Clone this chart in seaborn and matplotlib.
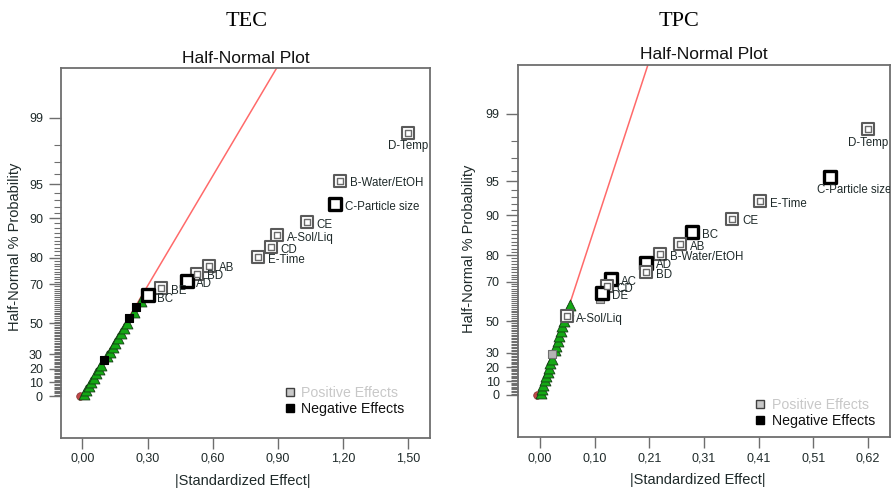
import math
from statistics import NormalDist

import numpy as np
import matplotlib
matplotlib.use("Agg")
import matplotlib.pyplot as plt
from matplotlib.lines import Line2D
from matplotlib.ticker import FixedLocator, FixedFormatter, NullFormatter
import seaborn as sns

# ==========================================
# Data (|effect|, half-normal %)
# ==========================================

# --- TEC panel ---
tec_terms = ['D-Temp', 'B-Water/EtOH', 'C-Particle size', 'CE', 'A-Sol/Liq', 'CD',
             'E-Time', 'AB', 'BD', 'AD', 'BE', 'BC']
tec_effect = [1.500, 1.185, 1.162, 1.032, 0.897, 0.866, 0.809, 0.583, 0.529, 0.480, 0.362, 0.301]
tec_pct = [98.5, 95.4, 92.4, 89.3, 86.3, 83.3, 80.3, 77.3, 74.3, 71.3, 68.3, 65.0]
tec_sign = ['+', '+', '-', '+', '+', '+', '+', '+', '+', '-', '+', '-']

tec_small_effect = [0.247, 0.216, 0.101]
tec_small_pct = [59.2, 53.1, 26.1]
tec_small_sign = ['-', '-', '-']

tec_err_effect = [0.006, 0.017, 0.029, 0.041, 0.052, 0.064, 0.076, 0.088, 0.113, 0.126,
                  0.139, 0.152, 0.166, 0.179, 0.193, 0.207, 0.237, 0.268]
tec_err_pct = [1.5, 4.5, 7.6, 10.6, 13.6, 16.7, 19.7, 22.7, 28.8, 31.8,
               34.8, 37.9, 40.9, 43.9, 47.0, 50.0, 56.1, 62.1]

tec_origin_effect = [-0.010]
tec_origin_pct = [0.0]

tec_line_effect = [0.0, 0.94]
tec_line_pct = [0.0, 99.86]

tec_xticks = [0.0, 0.3, 0.6, 0.9, 1.2, 1.5]
tec_xticklabels = ['0,00', '0,30', '0,60', '0,90', '1,20', '1,50']

# --- TPC panel ---
tpc_terms = ['D-Temp', 'C-Particle size', 'E-Time', 'CE', 'BC', 'AB', 'B-Water/EtOH',
             'AD', 'BD', 'AC', 'CD', 'DE', 'A-Sol/Liq']
tpc_effect = [0.6165, 0.5445, 0.413, 0.361, 0.285, 0.263, 0.225, 0.199, 0.199,
              0.133, 0.125, 0.116, 0.050]
tpc_pct = [98.5, 95.4, 92.4, 89.4, 86.4, 83.4, 80.4, 77.5, 74.0, 71.1, 68.0, 64.9, 53.2]
tpc_sign = ['+', '-', '+', '+', '-', '+', '+', '-', '+', '-', '+', '-', '+']

tpc_small_effect = [0.112, 0.0231]
tpc_small_pct = [62.2, 29.3]
tpc_small_sign = ['+', '+']

tpc_err_effect = [0.0013, 0.0038, 0.0064, 0.0089, 0.0115, 0.0141, 0.0168, 0.0194, 0.0222,
                  0.0276, 0.0304, 0.0333, 0.0363, 0.0392, 0.0421, 0.0453, 0.0520, 0.0555]
tpc_err_pct = [1.5, 4.5, 7.6, 10.6, 13.6, 16.7, 19.7, 22.7, 25.8,
               31.8, 34.8, 37.9, 40.9, 43.9, 47.0, 50.0, 56.1, 59.1]

tpc_origin_effect = [-0.006]
tpc_origin_pct = [0.0]

tpc_line_effect = [0.0, 0.214]
tpc_line_pct = [0.0, 99.86]

tpc_xticks = [0.0, 0.1027, 0.2053, 0.308, 0.4107, 0.5133, 0.616]
tpc_xticklabels = ['0,00', '0,10', '0,21', '0,31', '0,41', '0,51', '0,62']

y_major = [0, 10, 20, 30, 50, 70, 80, 90, 95, 99]

# ==========================================
# Half-normal probability scale
# ==========================================
_nd = NormalDist()


def _pct_to_q(p):
    p = float(p)
    if math.isnan(p):
        return np.nan
    u = min(max(0.5 + p / 200.0, 1e-12), 1 - 1e-12)
    return _nd.inv_cdf(u)


fwd = np.vectorize(_pct_to_q, otypes=[float])
inv = np.vectorize(lambda q: 100.0 * math.erf(q / math.sqrt(2.0)), otypes=[float])

# ==========================================
# Style
# ==========================================
sns.set_style("ticks")
plt.rcParams['font.family'] = ['Liberation Sans', 'DejaVu Sans']

GRAY = '#5a5a5a'
SPINE = '#6e6e6e'
TXT = '#1f2a2a'


def draw_panel(ax, terms, eff, pct, sign, s_eff, s_pct, s_sign, e_eff, e_pct,
               o_eff, o_pct, l_eff, l_pct, xlim, xticks, xticklabels, ylim,
               special, leg_anchor):
    ax.set_yscale('function', functions=(fwd, inv))

    # reference line
    ax.plot(l_eff, l_pct, color='#ff6a6a', lw=1.1, zorder=1)

    # origin dot
    sns.scatterplot(x=o_eff, y=o_pct, ax=ax, marker='o', s=30,
                    color='#c04848', edgecolor='#803030', linewidth=0.5, zorder=2)

    # error terms
    sns.scatterplot(x=e_eff, y=e_pct, ax=ax, marker='^', s=62, color='#14a814',
                    edgecolor='#173d17', linewidth=0.6, zorder=3)

    # small unlabeled effects
    for x, y, sg in zip(s_eff, s_pct, s_sign):
        fc = '#000000' if sg == '-' else '#b4b4b4'
        ec = '#000000' if sg == '-' else '#707070'
        sns.scatterplot(x=[x], y=[y], ax=ax, marker='s', s=34, color=fc,
                        edgecolor=ec, linewidth=0.8, zorder=4)

    # labeled effects
    for name, x, y, sg in zip(terms, eff, pct, sign):
        if sg == '-':
            sns.scatterplot(x=[x], y=[y], ax=ax, marker='s', s=66, color='white',
                            edgecolor='black', linewidth=2.4, zorder=5)
        else:
            sns.scatterplot(x=[x], y=[y], ax=ax, marker='s', s=70, color='white',
                            edgecolor=GRAY, linewidth=1.5, zorder=5)
            sns.scatterplot(x=[x], y=[y], ax=ax, marker='s', s=15, color='white',
                            edgecolor='#6a6a6a', linewidth=1.0, zorder=6)
        dx, dy, ha = special.get(name, (7.0, -2.0, 'left'))
        ax.annotate(name, (x, y), xytext=(dx, dy), textcoords='offset points',
                    ha=ha, va='center', fontsize=8.3, color=TXT, clip_on=True, zorder=7)

    ax.set_xlim(*xlim)
    ax.set_ylim(*ylim)
    ax.xaxis.set_major_locator(FixedLocator(xticks))
    ax.xaxis.set_major_formatter(FixedFormatter(xticklabels))
    ax.yaxis.set_major_locator(FixedLocator(y_major))
    ax.yaxis.set_major_formatter(FixedFormatter([str(v) for v in y_major]))
    ax.yaxis.set_minor_locator(FixedLocator([p for p in range(1, 99) if p not in y_major]))
    ax.yaxis.set_minor_formatter(NullFormatter())

    ax.tick_params(axis='both', which='major', direction='out', color=SPINE, width=1.0,
                   labelsize=9, labelcolor=TXT)
    ax.tick_params(axis='y', which='major', length=9, pad=4)
    ax.tick_params(axis='y', which='minor', length=5, width=0.8, color=SPINE)
    ax.tick_params(axis='x', which='major', length=8, pad=3)
    ax.tick_params(axis='x', which='minor', length=0)

    for sp in ax.spines.values():
        sp.set_visible(True)
        sp.set_color(SPINE)
        sp.set_linewidth(1.3)

    ax.set_title('Half-Normal Plot', fontsize=12.5, pad=4, color='#111111')
    ax.set_xlabel('|Standardized Effect|', fontsize=10.5, color=TXT)
    ax.set_ylabel('Half-Normal % Probability', fontsize=10.5, color=TXT)

    handles = [
        Line2D([], [], marker='s', linestyle='', markersize=5.5,
               markerfacecolor='#c8c8c8', markeredgecolor='#404040', markeredgewidth=1.0),
        Line2D([], [], marker='s', linestyle='', markersize=5.5,
               markerfacecolor='black', markeredgecolor='black'),
    ]
    ax.legend(handles, ['Positive Effects', 'Negative Effects'], loc='lower right',
              bbox_to_anchor=leg_anchor, frameon=False, fontsize=10.2,
              labelcolor=['#c8c8c8', '#111111'], handlelength=0.6, handletextpad=0.5,
              labelspacing=0.15, borderpad=0.0, borderaxespad=0.0)


fig = plt.figure(figsize=(8.93, 4.90), dpi=100)
ax1 = fig.add_axes([0.0683, 0.1067, 0.4132, 0.7539])
ax2 = fig.add_axes([0.5797, 0.1076, 0.4169, 0.7598])

draw_panel(ax1, tec_terms, tec_effect, tec_pct, tec_sign,
           tec_small_effect, tec_small_pct, tec_small_sign,
           tec_err_effect, tec_err_pct, tec_origin_effect, tec_origin_pct,
           tec_line_effect, tec_line_pct,
           (-0.098, 1.599), tec_xticks, tec_xticklabels, (-30.05, 99.76),
           {'D-Temp': (0.0, -9.4, 'center'), 'BC': (7.0, -3.0, 'left')},
           (0.930, 0.058))
draw_panel(ax2, tpc_terms, tpc_effect, tpc_pct, tpc_sign,
           tpc_small_effect, tpc_small_pct, tpc_small_sign,
           tpc_err_effect, tpc_err_pct, tpc_origin_effect, tpc_origin_pct,
           tpc_line_effect, tpc_line_pct,
           (-0.0419, 0.657), tpc_xticks, tpc_xticklabels, (-30.2, 99.75),
           {'D-Temp': (0.0, -9.4, 'center'), 'C-Particle size': (-9.4, -9.4, 'left')},
           (0.960, 0.025))

ax1.yaxis.set_label_coords(-0.106, 0.517)
ax2.yaxis.set_label_coords(-0.111, 0.506)
ax1.xaxis.set_label_coords(0.493, -0.097)
ax2.xaxis.set_label_coords(0.485, -0.097)

fig.text(246.7 / 893, 1 - 22.0 / 490, 'TEC', family=['Liberation Serif', 'DejaVu Serif'],
         fontsize=16, ha='center', va='center', color='black')
fig.text(679.0 / 893, 1 - 22.0 / 490, 'TPC', family=['Liberation Serif', 'DejaVu Serif'],
         fontsize=16, ha='center', va='center', color='black')

fig.savefig('out.png', dpi=100)
